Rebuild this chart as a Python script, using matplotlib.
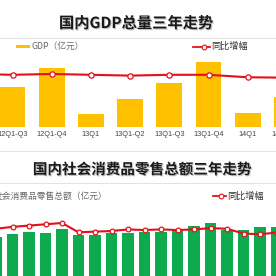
import numpy as np
import matplotlib
matplotlib.use('Agg')
import matplotlib.pyplot as plt
from matplotlib import patheffects as pe
from matplotlib import transforms as mtrans

plt.rcParams['font.family'] = ['Noto Sans CJK SC', 'DejaVu Sans']

# ---------------- data ----------------
gdp_periods = ['12Q1-Q2', '12Q1-Q3', '12Q1-Q4', '13Q1', '13Q1-Q2',
               '13Q1-Q3', '13Q1-Q4', '14Q1', '14Q1-Q2']
gdp_values = [227098, 353480, 519470, 118855, 248009, 386762, 568845, 128213, 269044]
gdp_growth = [7.8, 7.7, 7.8, 7.7, 7.6, 7.7, 7.7, 7.4, 7.35]
gdp_title = '国内GDP总量三年走势'
gdp_bar_label = 'GDP（亿元）'

retail_months = ['12-08', '12-09', '12-10', '12-11', '12-12', '13-02', '13-03',
                 '13-04', '13-05', '13-06', '13-07', '13-08', '13-09', '13-10',
                 '13-11', '13-12', '14-02', '14-03']
retail_values = [18740, 19730, 20230, 19930, 21210, 19430, 19340, 19930, 19930,
                 20140, 20320, 20740, 21930, 23000, 20740, 20830, 21630, 21630]
retail_growth = [13.4, 14.0, 14.4, 14.8, 15.2, 12.3, 12.5, 12.7, 13.2,
                 13.0, 13.2, 13.0, 13.2, 13.6, 13.4, 11.9, 11.7, 12.2]
retail_title = '国内社会消费品零售总额三年走势'
retail_bar_label = '社会消费品零售总额（亿元）'
growth_label = '同比增幅'

# ---------------- style ----------------
W = H = 276
YELLOW = '#FFC000'
GREEN = '#0DAA4E'
RED = '#E3101A'
TXT = '#333333'


def rect(x0, y0, x1, y1):
    return [x0 / W, 1 - y1 / H, (x1 - x0) / W, (y1 - y0) / H]


fig = plt.figure(figsize=(W / 100, H / 100), dpi=100)
fig.patch.set_facecolor('white')

# ---------------- top chart ----------------
ax1 = fig.add_axes(rect(0, 55, W, 127.5))
x1 = np.arange(len(gdp_periods))
ax1.bar(x1, gdp_values, width=0.66, color=YELLOW, zorder=2)
ax1.set_ylim(0, 633000)
ax1.set_xticks([])
ax1.set_yticks([])
for s in ax1.spines.values():
    s.set_visible(False)
ax1.patch.set_visible(False)
lab_tr = mtrans.blended_transform_factory(ax1.transData, ax1.transAxes)
for xi, lab in zip(x1, gdp_periods):
    ax1.text(xi, -7.5 / 72.5, lab, transform=lab_tr, ha='center', va='center',
             fontsize=5.3, color='#444444', clip_on=False,
             family=['Liberation Sans', 'DejaVu Sans'])

ax1b = ax1.twinx()
ax1b.plot(x1, gdp_growth, color=RED, lw=1.5, marker='o', ms=3.8,
          mfc='white', mec=RED, mew=0.9, zorder=3)
ax1b.set_ylim(1.31, 10.1)
ax1b.set_yticks([])
for s in ax1b.spines.values():
    s.set_visible(False)
ax1.set_xlim(1 - 12.5 / 39.2, 1 + 263.5 / 39.2)

# ---------------- bottom chart ----------------
ax2 = fig.add_axes(rect(0, 200, W, 300))
x2 = np.arange(len(retail_months))
ax2.bar(x2, retail_values, width=0.667, color=GREEN, zorder=2)
ax2.set_ylim(0, 29750)
ax2.set_xticks([])
ax2.set_yticks([])
for s in ax2.spines.values():
    s.set_visible(False)
ax2.patch.set_visible(False)

ax2b = ax2.twinx()
ax2b.plot(x2, retail_growth, color=RED, lw=1.5, marker='o', ms=3.4,
          mfc='white', mec=RED, mew=0.9, zorder=3)
ax2b.set_ylim(-8.86, 22.39)
ax2b.set_yticks([])
for s in ax2b.spines.values():
    s.set_visible(False)
ax2.set_xlim(1 - 12.5 / 16.5, 1 + 263.5 / 16.5)

# ---------------- overlay: titles, legends, separators ----------------
ov = fig.add_axes([0, 0, 1, 1])
ov.set_xlim(0, W)
ov.set_ylim(H, 0)
ov.axis('off')
ov.patch.set_visible(False)

for yy in (38, 151, 183):
    ov.plot([0, W], [yy, yy], color='#E2E2E2', lw=0.7)

shadow = [pe.SimplePatchShadow(offset=(0.8, -0.8), shadow_rgbFace='#888888', alpha=0.5),
          pe.Normal()]
ov.text(136, 23, gdp_title, ha='center', va='center', fontsize=11,
        fontweight='bold', color='#1A1A1A', path_effects=shadow)
ov.text(142.5, 169, retail_title, ha='center', va='center', fontsize=10.5,
        fontweight='bold', color='#1A1A1A', path_effects=shadow)

# top legend
ov.add_patch(plt.Rectangle((15.5, 44.5), 14.5, 3.5, color=YELLOW, lw=0))
ov.text(31, 46.5, gdp_bar_label, ha='left', va='center', fontsize=6.3, color='#666666')
ov.plot([193, 210], [46.7, 46.7], color=RED, lw=1.3)
ov.plot([204], [46.7], marker='o', ms=3.4, mfc='white', mec=RED, mew=0.8)
ov.text(211, 46.7, growth_label, ha='left', va='center', fontsize=6.6, color=TXT)

# bottom legend
ov.text(108, 196.7, retail_bar_label, ha='right', va='center', fontsize=6.3, color='#666666')
ov.plot([213, 226], [196, 196], color=RED, lw=1.3)
ov.plot([220.5], [196], marker='o', ms=3.4, mfc='white', mec=RED, mew=0.8)
ov.text(227, 196, growth_label, ha='left', va='center', fontsize=6.6, color=TXT)

fig.savefig('out.png', dpi=100, facecolor='white')
